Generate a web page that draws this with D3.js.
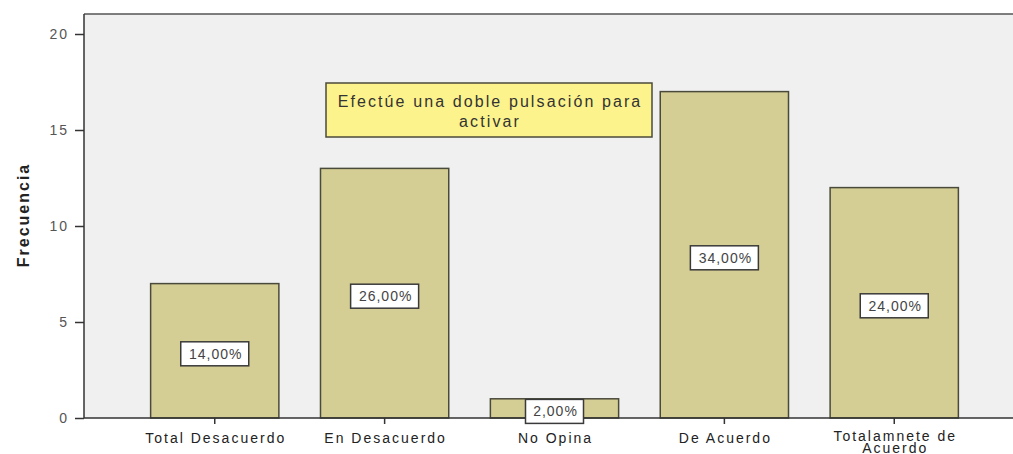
<!DOCTYPE html>
<html>
<head>
<meta charset="utf-8">
<script src="https://cdn.jsdelivr.net/npm/d3@7"></script>
<style>
  body { margin: 0; background: #fff; }
  text { font-family: "Liberation Sans", Arial, sans-serif; }
</style>
</head>
<body>
<div id="chart"></div>
<script>
var categories = ["Total Desacuerdo", "En Desacuerdo", "No Opina", "De Acuerdo", "Totalamnete de Acuerdo"];
var counts = [7, 13, 1, 17, 12];
var percents = ["14,00%", "26,00%", "2,00%", "34,00%", "24,00%"];
var yTicks = [0, 5, 10, 15, 20];

var width = 1013,
    height = 454;

var svg = d3.select('#chart').append('svg')
    .attr('width', width)
    .attr('height', height);

// plot area (avoid "top" – it's window.top)
var pLeft = 84, pTop = 14, pRight = 1013, pBottom = 418;

let scaleY = d3.scaleLinear().domain([0, 20]).range([pBottom, 34]);
let scaleX = d3.scaleBand().domain(categories).range([109, 1000]).padding(0.245);

svg.append("rect")
    .attr("x", pLeft).attr("y", pTop)
    .attr("width", pRight - pLeft).attr("height", pBottom - pTop)
    .attr("fill", "#f0f0f0");

// top border
svg.append("line")
    .attr("x1", pLeft).attr("x2", pRight)
    .attr("y1", pTop).attr("y2", pTop)
    .attr("stroke", "#555").attr("stroke-width", 1.5);

// bars
svg.selectAll(".bar").data(categories).enter()
    .append("rect")
    .attr("class", "bar")
    .attr("x", d => scaleX(d))
    .attr("y", (d, i) => scaleY(counts[i]))
    .attr("width", scaleX.bandwidth())
    .attr("height", (d, i) => pBottom - scaleY(counts[i]))
    .attr("fill", "#d4cd94")
    .attr("stroke", "#4a4a3a")
    .attr("stroke-width", 1.5);

// y axis
let yAxis = svg.append("g")
    .attr("transform", "translate(" + pLeft + ",0)")
    .call(d3.axisLeft(scaleY).tickValues(yTicks).tickSize(9).tickPadding(6));
yAxis.select(".domain").attr("d", "M0," + pTop + "V" + pBottom).attr("stroke", "#333").attr("stroke-width", 1.5);
yAxis.selectAll(".tick line").attr("stroke", "#333").attr("stroke-width", 1.5);
yAxis.selectAll(".tick text").attr("fill", "#555").style("font-size", "14px").style("letter-spacing", "2px");

// x axis
let xAxis = svg.append("g")
    .attr("transform", "translate(0," + pBottom + ")")
    .call(d3.axisBottom(scaleX).tickSize(6).tickFormat(""));
xAxis.select(".domain").attr("d", "M" + pLeft + ",0H" + pRight).attr("stroke", "#333").attr("stroke-width", 1.5);
xAxis.selectAll(".tick line").attr("stroke", "#333").attr("stroke-width", 1.5);

// category labels
svg.selectAll(".cat-label").data(categories).enter()
    .append("text")
    .attr("class", "cat-label")
    .attr("text-anchor", "middle")
    .attr("fill", "#222")
    .style("font-size", "14px")
    .style("letter-spacing", "2px")
    .each(function (d) {
        let lines = d == "Totalamnete de Acuerdo" ? ["Totalamnete de", "Acuerdo"] : [d];
        let t = d3.select(this);
        lines.forEach((l, i) => {
            t.append("tspan")
                .attr("x", scaleX(d) + scaleX.bandwidth() / 2 + 1)
                .attr("y", (lines.length > 1 ? 441 : 443) + i * 12)
                .text(l);
        });
    });

// y axis title
svg.append("text")
    .attr("transform", "translate(29,215) rotate(-90)")
    .attr("text-anchor", "middle")
    .attr("fill", "#222")
    .style("font-size", "16px")
    .style("font-weight", "bold")
    .style("letter-spacing", "2px")
    .text("Frecuencia");

// percent labels
let labels = svg.selectAll(".pct").data(categories).enter()
    .append("g")
    .attr("class", "pct")
    .attr("transform", (d, i) => "translate(" + (scaleX(d) + scaleX.bandwidth() / 2) + "," + (scaleY(counts[i] / 2) + 3) + ")");

labels.append("rect")
    .attr("x", (d, i) => percents[i].length > 5 ? -34 : -29)
    .attr("y", -12)
    .attr("width", (d, i) => percents[i].length > 5 ? 68 : 58)
    .attr("height", 24)
    .attr("fill", "#fff")
    .attr("stroke", "#3a3a3a")
    .attr("stroke-width", 1.5);

labels.append("text")
    .attr("text-anchor", "middle")
    .attr("x", 1)
    .attr("dy", "0.35em")
    .attr("fill", "#444")
    .style("font-size", "14px")
    .style("letter-spacing", "1px")
    .text((d, i) => percents[i]);

// tooltip
let tip = svg.append("g").attr("transform", "translate(326,83)");
tip.append("rect")
    .attr("width", 326).attr("height", 54)
    .attr("fill", "#fdf38c")
    .attr("stroke", "#4a4a3a")
    .attr("stroke-width", 1.5);
tip.append("text")
    .attr("x", 164).attr("y", 24)
    .attr("text-anchor", "middle")
    .attr("fill", "#333")
    .style("font-size", "16px")
    .style("letter-spacing", "2.1px")
    .text("Efectúe una doble pulsación para");
tip.append("text")
    .attr("x", 164).attr("y", 44)
    .attr("text-anchor", "middle")
    .attr("fill", "#333")
    .style("font-size", "16px")
    .style("letter-spacing", "2.1px")
    .text("activar");
</script>
</body>
</html>
